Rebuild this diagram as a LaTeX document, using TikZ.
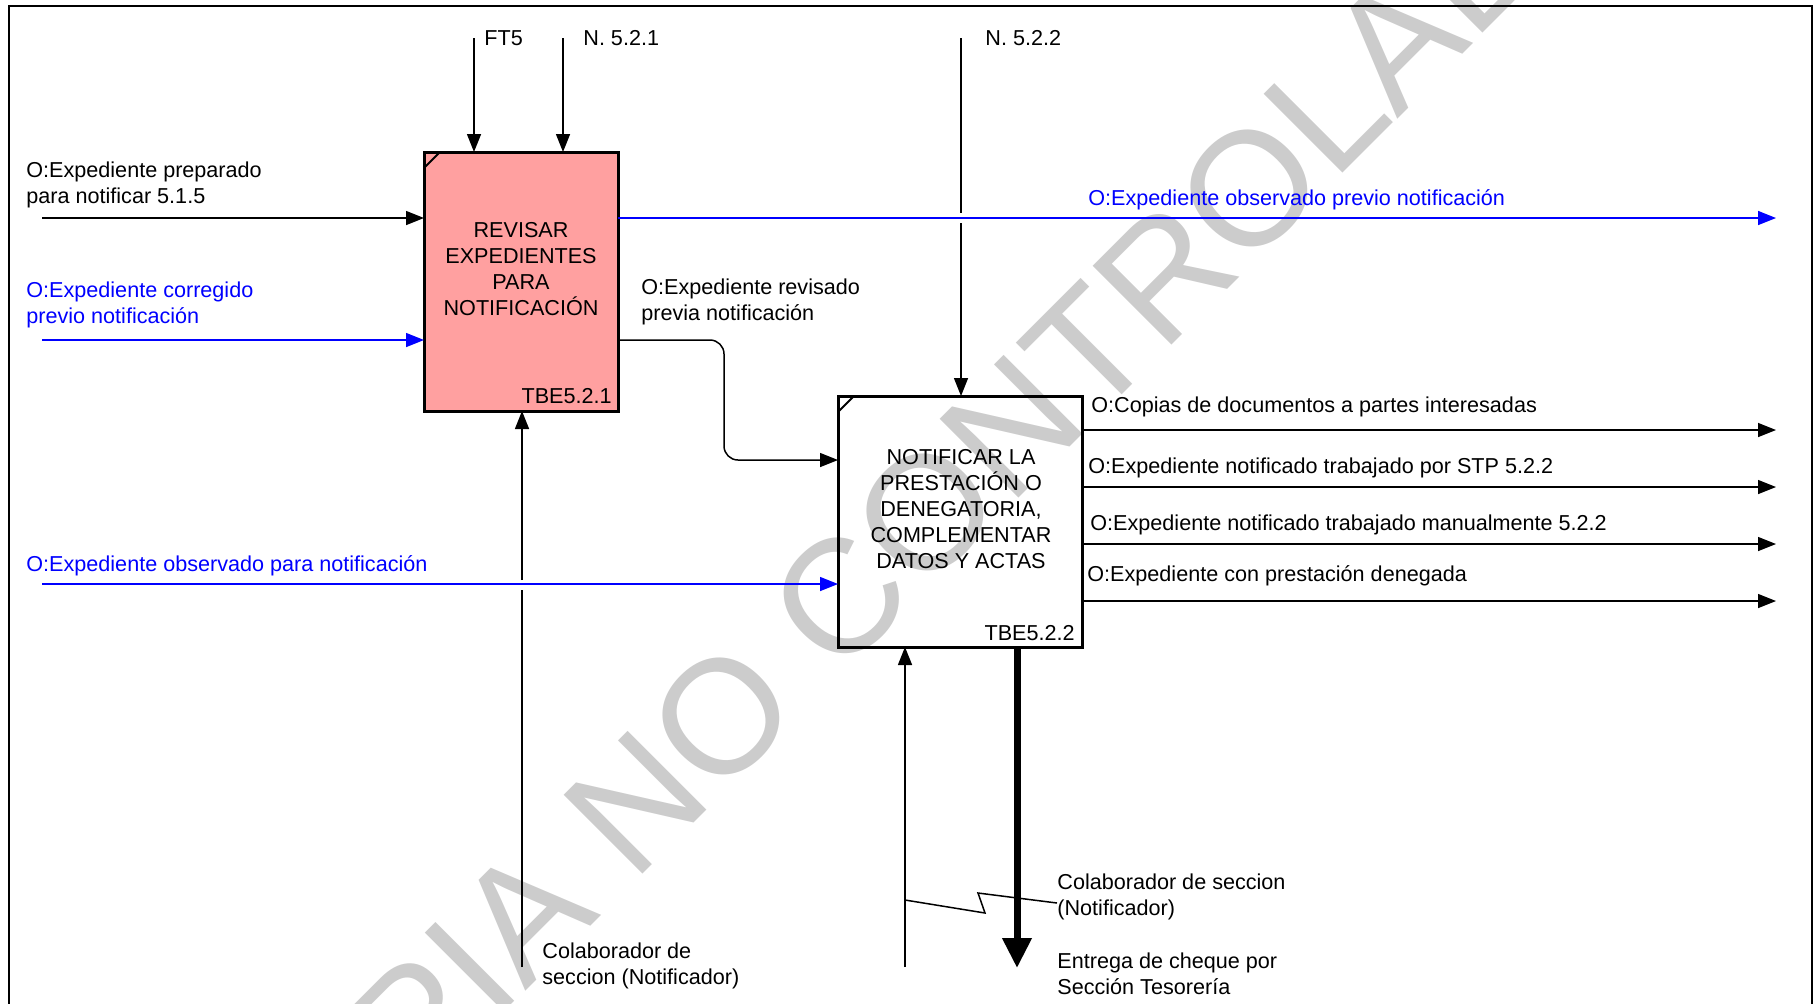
\documentclass[tikz,border=0pt]{standalone}
\usepackage{fontspec}
\setmainfont{Liberation Sans}
\usetikzlibrary{arrows.meta}
\definecolor{boxpink}{RGB}{255,160,160}
\definecolor{wmgray}{RGB}{204,204,204}
\definecolor{idefblue}{RGB}{0,0,255}
\begin{document}
\begin{tikzpicture}[x=0.5pt,y=-0.5pt,
  lbl/.style={anchor=west, inner sep=0pt, font=\fontsize{10.8}{13.2}\selectfont, align=left},
  boxtxt/.style={inner sep=0pt, font=\fontsize{10.8}{13}\selectfont, align=center},
  arr/.style={line width=0.75pt, -{Triangle[length=9pt,width=7pt]}},
  plain/.style={line width=0.75pt},
  bigarr/.style={line width=3.5pt, -{Triangle[length=15pt,width=14pt]}},
  actbox/.style={draw, line width=1.5pt, outer sep=0pt, inner sep=0pt}
]
\useasboundingbox (0,0) rectangle (1818,1003);
\clip (0,0) rectangle (1818,1003);

% watermark
\node[rotate=45, text=wmgray, inner sep=0pt, font=\fontsize{81}{81}\selectfont] (wm) at (900,538) {COPIA NO CONTROLADA};

% frame
\draw[line width=0.8pt] (9,1010) -- (9,6) -- (1812,6) -- (1812,1010);

% activity boxes
\node[actbox, fill=boxpink, minimum width=97pt, minimum height=129.5pt] (b1) at (521,281.5) {};
\node[actbox, minimum width=122pt, minimum height=125.5pt] (b2) at (960,521.5) {};
\draw[line width=1pt] ([yshift=-8pt]b1.north west) -- ([xshift=8pt]b1.north west);
\draw[line width=1pt] ([yshift=-8pt]b2.north west) -- ([xshift=8pt]b2.north west);

\node[boxtxt] (t1) at (521,269.5) {REVISAR\\EXPEDIENTES\\PARA\\NOTIFICACIÓN};
\node[boxtxt] (t2) at (961,509) {NOTIFICAR LA\\PRESTACIÓN O\\DENEGATORIA,\\COMPLEMENTAR\\DATOS Y ACTAS};
\node[lbl, anchor=east] (id1) at (612,396) {TBE5.2.1};
\node[lbl, anchor=east] (id2) at (1075,633) {TBE5.2.2};

% coordinates
\coordinate (ft5s) at (474,38);
\coordinate (n521s) at (563,38);
\coordinate (n522s) at (961,38);
\coordinate (n522a) at (961,213);
\coordinate (n522b) at (961,223);
\coordinate (in1) at (42,218);
\coordinate (in2) at (42,340);
\coordinate (in3) at (42,584);
\coordinate (out1) at (1776,218);
\coordinate (k1) at (724,340);
\coordinate (k2) at (724,460);
\coordinate (oa) at (1776,430);
\coordinate (ob) at (1776,487);
\coordinate (oc) at (1776,544);
\coordinate (od) at (1776,601);
\coordinate (m1) at (522,967);
\coordinate (m1a) at (522,590);
\coordinate (m1b) at (522,580);
\coordinate (m2) at (905,967);
\coordinate (tout) at (1017,968);
\coordinate (z0) at (905,900);
\coordinate (z1) at (985,913);
\coordinate (z2) at (978,893);
\coordinate (z3) at (1057,903);

% controls
\draw[arr] (ft5s) -- (ft5s |- b1.north);
\draw[arr] (n521s) -- (n521s |- b1.north);
\draw[plain] (n522s) -- (n522a);
\draw[arr] (n522b) -- (n522b |- b2.north);

% inputs
\draw[arr] (in1) -- (in1 -| b1.west);
\draw[arr, idefblue] (in2) -- (in2 -| b1.west);
\draw[arr, idefblue] (in3) -- (in3 -| b2.west);

% outputs
\draw[arr, idefblue] (in1 -| b1.east) -- (out1);
\draw[arr, rounded corners=7pt] (in2 -| b1.east) -- (k1) -- (k2) -- (k2 -| b2.west);
\draw[arr] (oa -| b2.east) -- (oa);
\draw[arr] (ob -| b2.east) -- (ob);
\draw[arr] (oc -| b2.east) -- (oc);
\draw[arr] (od -| b2.east) -- (od);

% mechanisms
\draw[plain] (m1) -- (m1a);
\draw[arr] (m1b) -- (m1b |- b1.south);
\draw[arr] (m2) -- (m2 |- b2.south);
\draw[bigarr] (tout |- b2.south) -- (tout);
\draw[plain] (z0) -- (z1) -- (z2) -- (z3);

% labels
\node[lbl] (lft5) at (484,38) {FT5};
\node[lbl] (ln521) at (583,38) {N. 5.2.1};
\node[lbl] (ln522) at (985,38) {N. 5.2.2};
\node[lbl] (lin1) at (26,185) {O:Expediente preparado\\para notificar 5.1.5};
\node[lbl, text=idefblue] (lin2) at (26,305) {O:Expediente corregido\\previo notificación};
\node[lbl] (lrev) at (641,302) {O:Expediente revisado\\previa notificación};
\node[lbl, text=idefblue] (lout1) at (1088,200) {O:Expediente observado previo notificación};
\node[lbl] (loa) at (1091,407) {O:Copias de documentos a partes interesadas};
\node[lbl] (lob) at (1088,468) {O:Expediente notificado trabajado por STP 5.2.2};
\node[lbl] (loc) at (1090,525) {O:Expediente notificado trabajado manualmente 5.2.2};
\node[lbl] (lod) at (1087,576) {O:Expediente con prestación denegada};
\node[lbl, text=idefblue] (lin3) at (26,566) {O:Expediente observado para notificación};
\node[lbl] (lm1) at (542,966) {Colaborador de\\seccion (Notificador)};
\node[lbl] (lm2) at (1057,897) {Colaborador de seccion\\(Notificador)};
\node[lbl] (lt) at (1057,974) {Entrega de cheque por\\Sección Tesorería};
\end{tikzpicture}
\end{document}
